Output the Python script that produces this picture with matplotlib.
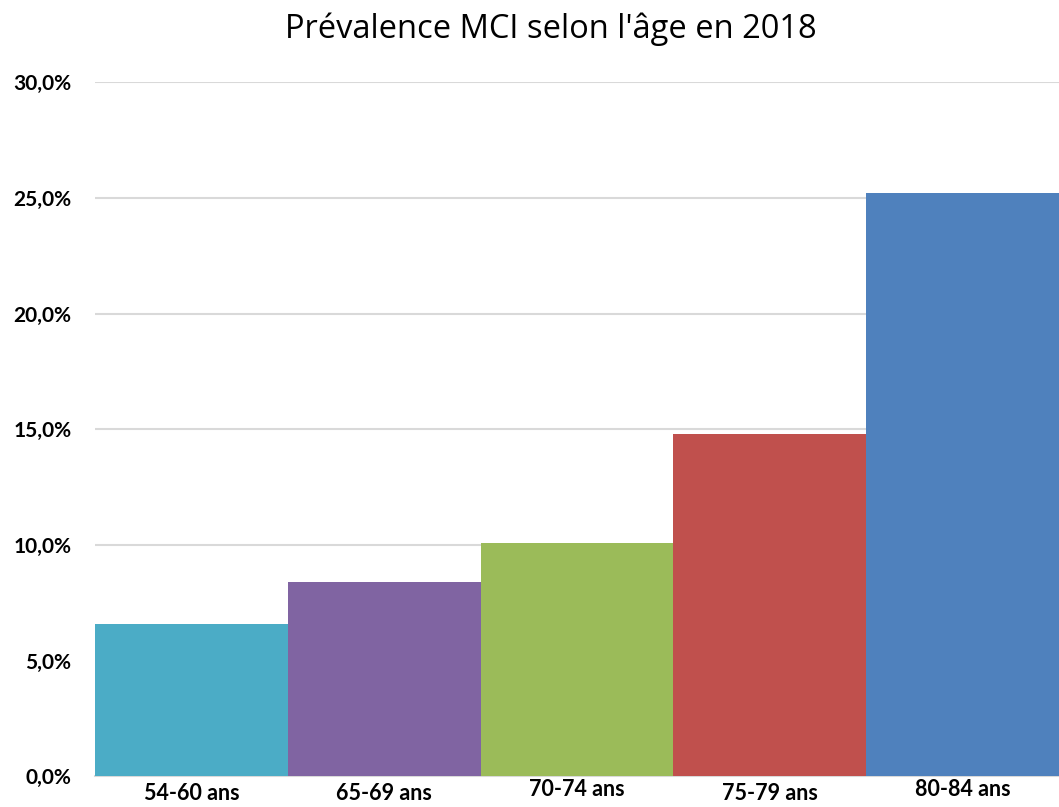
import numpy as np
from matplotlib import pyplot as plt
from matplotlib.ticker import FuncFormatter
from matplotlib import transforms

age_groups = ['54-60 ans', '65-69 ans', '70-74 ans', '75-79 ans', '80-84 ans']
prevalence = [6.6, 8.4, 10.1, 14.8, 25.2]
bar_colors = ['#4bacc6', '#8064a2', '#9bbb59', '#c0504d', '#4f81bd']
y_ticks = [0, 5, 10, 15, 20, 25, 30]

plt.rcParams['font.family'] = ['Open Sans', 'DejaVu Sans']

fig = plt.figure(figsize=(10.59, 8.07), dpi=100)
ax = fig.add_axes([0.0897, 0.038, 0.9103, 0.86])

x = np.arange(len(age_groups))
ax.bar(x, prevalence, width=1.0, color=bar_colors, zorder=3)

ax.set_xlim(-0.5, len(age_groups) - 0.5)
ax.set_ylim(0, 30)
ax.set_yticks(y_ticks)
ax.yaxis.set_major_formatter(FuncFormatter(lambda v, p: f'{v:.1f}%'.replace('.', ',')))
ax.grid(axis='y', color='#d9d9d9', linewidth=1.5, zorder=0)
ax.set_xticks(x)
ax.set_xticklabels(age_groups)

for side in ['left', 'right', 'top']:
    ax.spines[side].set_visible(False)
ax.spines['bottom'].set_color('#d9d9d9')
ax.spines['bottom'].set_linewidth(1.5)

ax.tick_params(axis='both', length=0)
ax.tick_params(axis='y', pad=17)
ax.tick_params(axis='x', pad=5)
for lab in ax.get_yticklabels():
    lab.set_fontweight('bold')
    lab.set_fontsize(15)
    lab.set_fontfamily(['Lato', 'DejaVu Sans'])
for lab in ax.get_xticklabels():
    lab.set_fontweight('bold')
    lab.set_fontsize(15.5)
    lab.set_fontfamily(['Lato', 'DejaVu Sans'])

# alternate label offsets as in the original
for i, lab in enumerate(ax.get_xticklabels()):
    if i in (2, 4):
        lab.set_transform(lab.get_transform() + transforms.ScaledTranslation(0, 4 / 100, fig.dpi_scale_trans))

fig.suptitle("Prévalence MCI selon l'âge en 2018", fontsize=23.5, y=0.985, x=0.52)

plt.savefig('out.png', dpi=100)
